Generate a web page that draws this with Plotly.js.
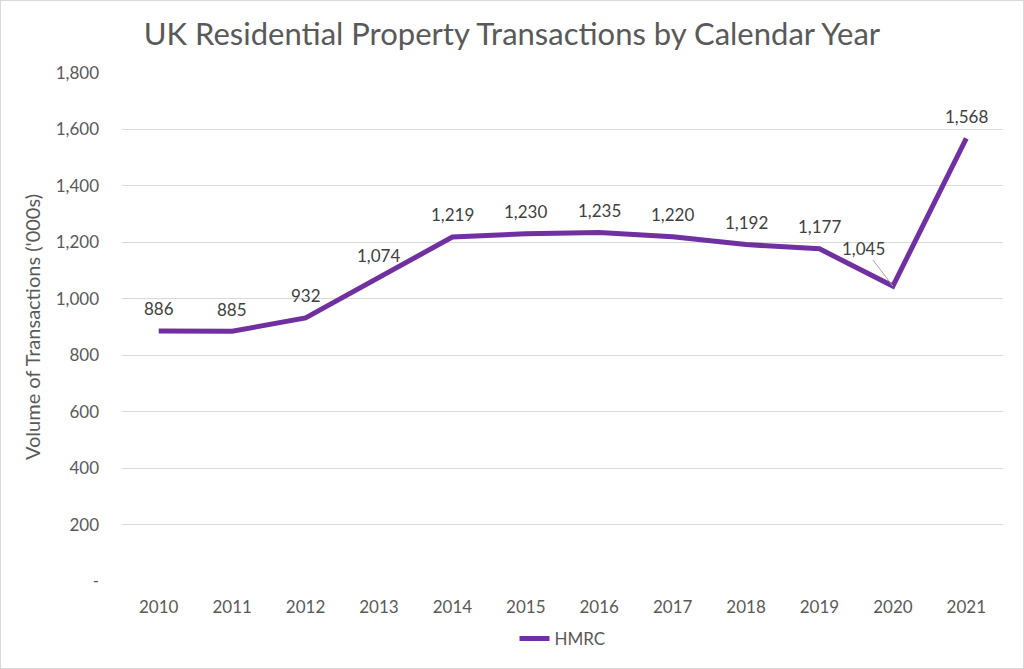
<!DOCTYPE html>
<html><head><meta charset="utf-8">
<script src="https://cdn.plot.ly/plotly-3.0.1.min.js"></script>
<style>
html,body{margin:0;padding:0;background:#fff;}
#wrap{position:absolute;left:0;top:0;width:1022px;height:667px;border:1px solid #d9d9d9;}
#chart{width:1022px;height:667px;}
</style></head>
<body><div id="wrap"><div id="chart"></div></div>
<script>
const years = ['2010','2011','2012','2013','2014','2015','2016','2017','2018','2019','2020','2021'];
const hmrc = [886, 885, 932, 1074, 1219, 1230, 1235, 1220, 1192, 1177, 1045, 1568];
const yTickVals = [0, 200, 400, 600, 800, 1000, 1200, 1400, 1600, 1800];
const yTickText = ['-', '200', '400', '600', '800', '1,000', '1,200', '1,400', '1,600', '1,800'];

const FONT = 'Lato, "Open Sans", sans-serif';
const fmt = v => String(v).replace(/\B(?=(\d{3})+(?!\d))/g, ',');

const annotations = years.map((y, i) => {
  const isLeader = y === '2020';
  return {
    x: i, y: hmrc[i], xref: 'x', yref: 'y',
    text: fmt(hmrc[i]),
    showarrow: true,
    arrowhead: 0, arrowwidth: 1,
    arrowcolor: isLeader ? '#a6a6a6' : 'rgba(0,0,0,0)',
    ax: isLeader ? -29 : 0,
    ay: isLeader ? -38 : -22,
    font: {family: FONT, size: 17, color: '#404040'}
  };
});

const data = [{
  x: years, y: hmrc, type: 'scatter', mode: 'lines', name: 'HMRC',
  line: {color: '#7030A0', width: 5}
}];

const layout = {
  width: 1022, height: 667,
  margin: {l: 121, r: 20, t: 72, b: 86},
  paper_bgcolor: '#fff', plot_bgcolor: '#fff',
  title: {text: 'UK Residential Property Transactions by Calendar Year', x: 0.5, xanchor: 'center', y: 0.95, yanchor: 'middle',
          font: {family: FONT, size: 31, color: '#595959'}},
  xaxis: {type: 'category', range: [-0.5, 11.5], showgrid: false, zeroline: false, showline: false,
          ticks: '', ticklabelstandoff: 14, tickfont: {family: FONT, size: 17, color: '#595959'}},
  yaxis: {range: [0, 1800], tickvals: yTickVals, ticktext: yTickText, showgrid: true, gridcolor: '#d9d9d9', gridwidth: 1,
          zeroline: false, showline: false, ticks: '', ticklabelstandoff: 22,
          tickfont: {family: FONT, size: 17, color: '#595959'},
          title: {text: "Volume of Transactions ('000s)", standoff: 9, font: {family: FONT, size: 20, color: '#595959'}}},
  showlegend: true,
  legend: {orientation: 'h', x: 0.5, xanchor: 'center', y: -0.112, yanchor: 'middle',
           font: {family: FONT, size: 17, color: '#595959'}},
  annotations: annotations
};

Plotly.newPlot('chart', data, layout, {displayModeBar: false, staticPlot: true});
</script></body></html>
